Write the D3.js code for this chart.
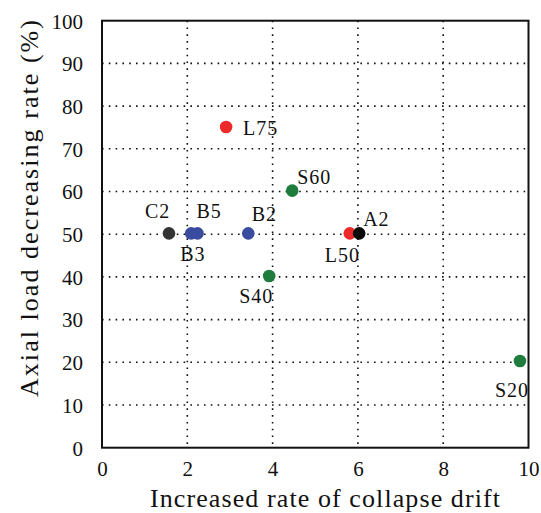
<!DOCTYPE html>
<html>
<head>
<meta charset="utf-8">
<script src="https://cdn.jsdelivr.net/npm/d3@7"></script>
<style>
  html, body { margin: 0; padding: 0; background: #fff; }
  svg { display: block; }
  text { font-family: "Liberation Serif", "Times New Roman", serif; fill: #111; }
</style>
</head>
<body>
<svg id="chart" width="541" height="513"></svg>
<script>
// ---- data ----
const specimens = ["C2", "B3", "B5", "B2", "L50", "A2", "L75", "S60", "S40", "S20"];
const collapseDriftRate = [1.57, 2.09, 2.24, 3.43, 5.81, 6.03, 2.91, 4.46, 3.92, 9.80];
const axialLoadRate = [50.2, 50.2, 50.2, 50.2, 50.2, 50.2, 75.1, 60.2, 40.2, 20.3];
const groups = ["C", "B", "B", "B", "L", "A", "L", "S", "S", "S"];
const xTicks = [0, 2, 4, 6, 8, 10];
const yTicks = [0, 10, 20, 30, 40, 50, 60, 70, 80, 90, 100];

// ---- presentation ----
const groupColor = { C: "#333333", B: "#3a4c9f", L: "#ec2a2a", A: "#0a0a0a", S: "#1f7c3c" };
// label offset (start of text, baseline) relative to marker, in px
const labelPlacement = {
  C2: [-24, -15.5], B3: [-11, 28], B5: [-1, -15.5], B2: [3.5, -12],
  L50: [-25, 28.5], A2: [4, -7.5], L75: [17, 7.7], S60: [5, -7],
  S40: [-30, 27], S20: [-25, 36]
};

const svg = d3.select("#chart");
const m = { left: 102, right: 528.5, top: 20.7, bottom: 447.7 };
const x = d3.scaleLinear().domain([0, 10]).range([m.left, m.right]);
const y = d3.scaleLinear().domain([0, 100]).range([m.bottom, m.top]);

// grid
const grid = svg.append("g").attr("stroke", "#111").attr("stroke-width", 1.6)
  .attr("stroke-dasharray", "1.6,5.2").attr("fill", "none");
grid.selectAll("line.v").data(xTicks.filter(t => t > 0 && t < 10)).join("line")
  .attr("x1", d => x(d)).attr("x2", d => x(d)).attr("y1", m.top).attr("y2", m.bottom);
grid.selectAll("line.h").data(yTicks.filter(t => t > 0 && t < 100)).join("line")
  .attr("y1", d => y(d)).attr("y2", d => y(d)).attr("x1", m.left).attr("x2", m.right);

// axes (tick labels via d3 axes)
const xAxis = svg.append("g").attr("transform", `translate(0,${m.bottom})`)
  .call(d3.axisBottom(x).tickValues(xTicks).tickSize(0).tickPadding(13).tickFormat(d3.format("d")));
xAxis.select(".domain").remove();
xAxis.selectAll("text").attr("font-size", 21).attr("fill", "#111")
  .style("font-family", '"Liberation Serif", serif').attr("dy", "0.71em");

const yAxis = svg.append("g").attr("transform", `translate(${m.left},0)`)
  .call(d3.axisLeft(y).tickValues(yTicks).tickSize(0).tickPadding(19).tickFormat(d3.format("d")));
yAxis.select(".domain").remove();
yAxis.selectAll("text").attr("font-size", 21).attr("fill", "#111")
  .style("font-family", '"Liberation Serif", serif').attr("dy", "0.35em");

// frame
svg.append("rect").attr("x", m.left).attr("y", m.top)
  .attr("width", m.right - m.left).attr("height", m.bottom - m.top)
  .attr("fill", "none").attr("stroke", "#111").attr("stroke-width", 2);

// points
const pts = specimens.map((s, i) => ({ s, x: collapseDriftRate[i], y: axialLoadRate[i], g: groups[i] }));
svg.append("g").selectAll("circle").data(pts).join("circle")
  .attr("cx", d => x(d.x)).attr("cy", d => y(d.y)).attr("r", 6.3)
  .attr("fill", d => groupColor[d.g]);

// labels
svg.append("g").selectAll("text").data(pts).join("text")
  .attr("x", d => x(d.x) + labelPlacement[d.s][0])
  .attr("y", d => y(d.y) + labelPlacement[d.s][1])
  .attr("font-size", 20).attr("letter-spacing", 1)
  .text(d => d.s);

// axis titles
svg.append("text").attr("x", 325).attr("y", 506.5).attr("text-anchor", "middle")
  .attr("font-size", 26).attr("textLength", 350).attr("lengthAdjust", "spacing")
  .text("Increased rate of collapse drift");
svg.append("text").attr("transform", "translate(38,208.5) rotate(-90)").attr("text-anchor", "middle")
  .attr("font-size", 26).attr("textLength", 377).attr("lengthAdjust", "spacing")
  .text("Axial load decreasing rate (%)");
</script>
</body>
</html>
